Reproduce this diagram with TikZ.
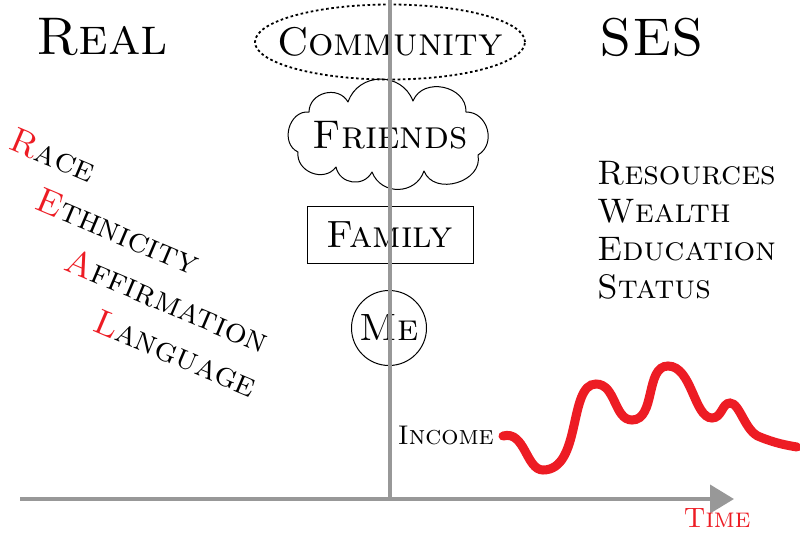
\documentclass[tikz,border=0pt]{standalone}
\usepackage{fontspec}
\usetikzlibrary{shapes.geometric,arrows.meta}
\definecolor{axisgray}{RGB}{152,152,152}
\definecolor{incred}{RGB}{237,28,36}
\begin{document}
\begin{tikzpicture}[x=1pt,y=-1pt,
  sc/.style={font=\fontsize{#1}{#1}\selectfont\scshape, inner sep=0pt},
  reallbl/.style={sc=35, anchor=base west, rotate=-23},
  seslbl/.style={sc=34, anchor=base west},
  axisline/.style={draw=axisgray, line width=4pt},
  frame/.style={draw, line width=1pt},
  puff/.style={bend left=#1, looseness=1.25}]
\useasboundingbox (0,0) rectangle (800,533);

% headings
\node[sc=53] (real) at (102,37) {Real};
\node[sc=53] (ses) at (652,37) {SES};

% central nodes
\node[draw, ellipse, line width=1.8pt, dash pattern=on 2.6pt off 2.6pt, minimum width=270pt, minimum height=75pt, inner sep=0pt] (communityring) at (390,42) {};
\node[sc=40] (community) at (390,42) {Community};

% cloud around Friends
\draw[frame, line join=round]
  (298,152) to[puff=80] (309,112)
  to[puff=75] (348,102)
  to[puff=70] (413,101)
  to[puff=80] (466,112)
  to[puff=75] (478,155)
  to[puff=85] (424,171)
  to[puff=70] (372,172)
  to[puff=70] (336,167)
  to[puff=75] cycle;
\node[sc=40] (friends) at (390,135) {Friends};

\node[sc=38, frame, rectangle, minimum width=166pt, minimum height=57pt] (family) at (390,235) {Family};
\node[sc=38, frame, circle, minimum size=75pt] (me) at (389,328) {Me};

% REAL list
\node[reallbl] (race) at (7,148) {\textcolor{incred}{R}ace};
\node[reallbl] (eth) at (33,208) {\textcolor{incred}{E}thnicity};
\node[reallbl] (aff) at (62,269) {\textcolor{incred}{A}ffirmation};
\node[reallbl] (lang) at (91,330) {\textcolor{incred}{L}anguage};

% SES list
\node[seslbl] (res) at (597,184) {Resources};
\node[seslbl] (wea) at (597,222) {Wealth};
\node[seslbl] (edu) at (597,260) {Education};
\node[seslbl] (sta) at (597,298) {Status};

% axes
\coordinate (vtop) at (390,0);
\coordinate (origin) at (390,499);
\coordinate (hleft) at (20,499);
\coordinate (hright) at (734,499);
\draw[axisline] (vtop) -- (origin);
\draw[axisline, -{Triangle[length=24pt,width=28pt]}] (hleft) -- (hright);

% income
\node[sc=27, anchor=base east] (income) at (494,444) {Income};
\node[sc=28, text=incred] (time) at (717,518) {Time};
\coordinate (c0) at (503,436);
\draw[incred, line width=9pt, line cap=round]
  (c0) .. controls (525,430) and (526,470) .. (543,470)
  .. controls (582,470) and (568,384) .. (596,384)
  .. controls (616,384) and (614,420) .. (632,420)
  .. controls (656,420) and (645,366) .. (668,366)
  .. controls (692,366) and (694,418) .. (712,418)
  .. controls (722,418) and (722,403) .. (730,403)
  .. controls (740,403) and (745,432) .. (760,437)
  .. controls (775,443) and (785,445) .. (797,447);
\end{tikzpicture}
\end{document}
